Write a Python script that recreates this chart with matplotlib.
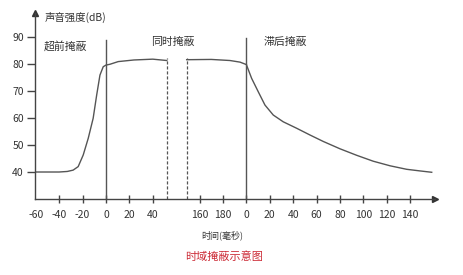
import matplotlib
matplotlib.use("Agg")
import matplotlib.pyplot as plt
import numpy as np

plt.rcParams['font.family'] = ['Noto Sans CJK SC', 'DejaVu Sans']

# Data (ms, dB) per section of the broken time axis
pre_t = [-60, -40, -33, -28, -23.7, -19.4, -15.1, -10.9, -7.9, -5.1, -2.3, 0, 3.4, 10.5, 24, 40, 52]
pre_db = [40, 40, 40.2, 40.7, 42, 46.3, 52.5, 59.9, 68.5, 75.9, 79, 79.6, 79.9, 80.9, 81.5, 81.8, 81.3]
sim_t = [149, 170, 186, 194.6, 200]
sim_db = [81.6, 81.7, 81.3, 80.7, 79.8]
post_t = [0, 4.5, 10.2, 15.9, 23, 31.5, 43, 54.4, 65.8, 80, 94.2, 108.4, 122.8, 137, 148.4, 158.4]
post_db = [79.8, 74.7, 69.7, 64.8, 61.1, 58.6, 56.2, 53.7, 51.3, 48.6, 46.2, 44.0, 42.3, 41.0, 40.4, 39.9]

yticks = [40, 50, 60, 70, 80, 90]
xtick_labels = ['-60', '-40', '-20', '0', '20', '40', '160', '180',
                '0', '20', '40', '60', '80', '100', '120', '140']
xtick_ms = [-60, -40, -20, 0, 20, 40, 160, 180, 0, 20, 40, 60, 80, 100, 120, 140]
xtick_sec = ['pre'] * 6 + ['sim'] * 2 + ['post'] * 8

def pos(t, sec):
    t = np.asarray(t, dtype=float)
    if sec == 'pre':
        return t / 20.0
    if sec == 'sim':
        return (t - 80.0) / 20.0
    return 6.0 + t / 20.0

W, H = 463, 275
fig = plt.figure(figsize=(W / 100, H / 100), dpi=100)
ax = fig.add_axes([35 / W, 1 - 199 / H, 400 / W, 186 / H])
ax.set_xlim(-3.03, 14.06)
ax.set_ylim(30, 98.9)

lc = '#555555'
tc = '#333333'
ax.plot(pos(pre_t, 'pre'), pre_db, color=lc, lw=1.0)
ax.plot(pos(sim_t, 'sim'), sim_db, color=lc, lw=1.0)
ax.plot(pos(post_t, 'post'), post_db, color=lc, lw=1.0)

# separators
ax.plot([0, 0], [30, 88.9], color=lc, lw=1.0)
ax.plot([6, 6], [30, 89.6], color=lc, lw=1.0)
for u in (pos(52, 'pre'), pos(149, 'sim')):
    ax.plot([u, u], [30, 82.2], color=lc, lw=0.9, ls=(0, (2.5, 1.5)))

for s in ('top', 'right'):
    ax.spines[s].set_visible(False)
for s in ('left', 'bottom'):
    ax.spines[s].set_color('#444444')
    ax.spines[s].set_linewidth(1.0)

ax.plot([0], [1], marker='^', ms=5, color='#333333', transform=ax.transAxes, clip_on=False)
ax.plot([1], [0], marker='>', ms=5, color='#333333', transform=ax.transAxes, clip_on=False)

ax.set_yticks(yticks)
ax.set_yticklabels([str(v) for v in yticks])
ax.tick_params(axis='y', direction='out', length=6, width=1, color='#444444',
               labelsize=7.5, labelcolor=tc, pad=2)

xt = [float(pos(t, s)) for t, s in zip(xtick_ms, xtick_sec)]
ax.set_xticks(xt)
ax.set_xticklabels(xtick_labels)
ax.tick_params(axis='x', direction='inout', length=6, width=1, color='#444444',
               labelsize=7.5, labelcolor=tc, pad=5)
ax.get_xticklines()[0].set_visible(False)
ax.get_xticklines()[1].set_visible(False)

fs = 7.8
ax.text(-2.65, 86.6, '超前掩蔽', fontsize=fs, color=tc, ha='left', va='center')
ax.text(2.85, 88.3, '同时掩蔽', fontsize=fs, color=tc, ha='center', va='center')
ax.text(7.65, 88.3, '滞后掩蔽', fontsize=fs, color=tc, ha='center', va='center')

fig.text(45 / W, 1 - 17 / H, '声音强度(dB)', fontsize=7.5, color=tc, ha='left', va='center')
fig.text(222 / W, 1 - 235 / H, '时间(毫秒)', fontsize=6.5, color=tc, ha='center', va='center')
fig.text(224 / W, 1 - 257 / H, '时域掩蔽示意图', fontsize=8, color='#cc2b36', ha='center', va='center')

fig.savefig('out.png', dpi=100)
